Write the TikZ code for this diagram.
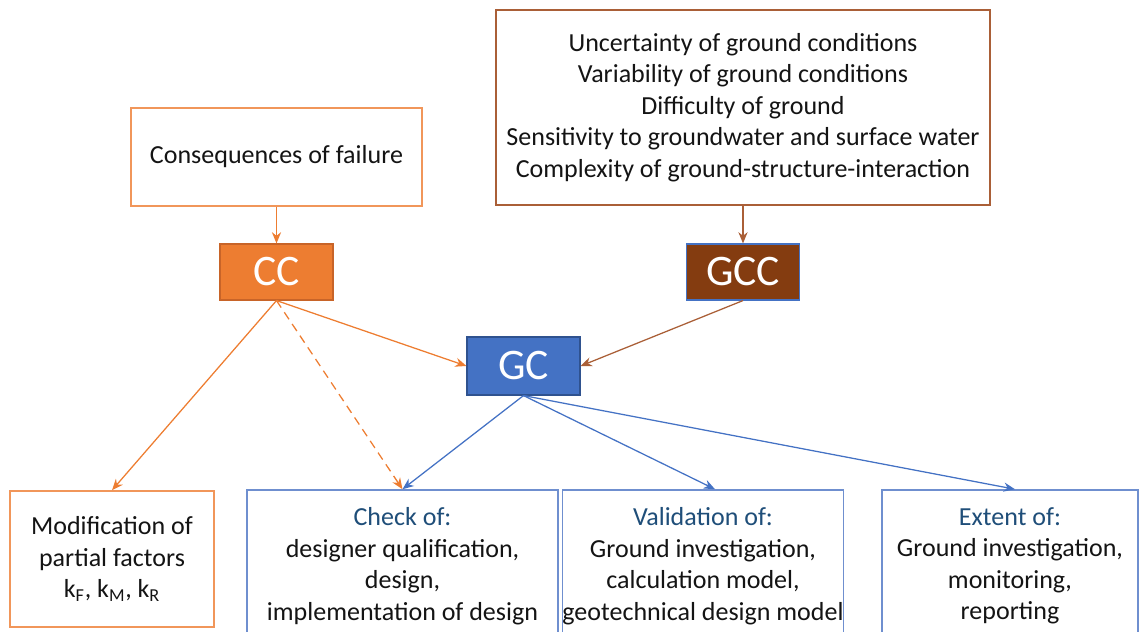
\documentclass[tikz,border=0pt]{standalone}
\usepackage{fontspec}
\setmainfont{Carlito}
\usepackage{tikz}
\usetikzlibrary{arrows.meta}

\definecolor{ccorange}{RGB}{237,125,49}
\definecolor{ccline}{RGB}{241,150,90}
\definecolor{ccedge}{RGB}{200,100,40}
\definecolor{gccbrown}{RGB}{132,60,16}
\definecolor{gccline}{RGB}{170,95,55}
\definecolor{gcblue}{RGB}{68,114,196}
\definecolor{gcedge}{RGB}{47,82,143}
\definecolor{boxblue}{RGB}{111,143,207}
\definecolor{headblue}{RGB}{31,78,121}
\definecolor{txt}{RGB}{20,20,20}

\tikzset{
  textbox/.style={draw, line width=1.1pt, fill=white, text=txt, align=center, inner sep=0pt,
    font=\fontsize{18.5}{22.4}\selectfont},
  catbox/.style={draw, line width=0.8pt, text=white, inner sep=0pt, minimum width=113*0.025cm,
    minimum height=56*0.025cm, font=\fontsize{31}{36}\selectfont},
  arr/.style={line width=0.9pt, -{Stealth[length=8pt,width=6.5pt]}}
}

\begin{document}
\begin{tikzpicture}[x=0.025cm,y=-0.025cm]
\useasboundingbox (0,0) rectangle (1140,632);
\clip (0,0) rectangle (1140,632);

\node[textbox, draw=ccline, minimum width=291*0.025cm, minimum height=98*0.025cm] (cons) at (276.5,157) {Consequences of failure};
\node[textbox, draw=gccline, minimum width=494*0.025cm, minimum height=195*0.025cm] (gccin) at (743,107.5)
  {Uncertainty of ground conditions\\Variability of ground conditions\\Difficulty of ground\\Sensitivity to groundwater and surface water\\Complexity of ground-structure-interaction};

\node[catbox, fill=ccorange, draw=ccedge] (cc) at (276.5,272) {CC};
\node[catbox, fill=gccbrown, draw=gcblue] (gcc) at (743,272) {GCC};
\node[catbox, fill=gcblue, draw=gcedge, minimum height=58*0.025cm] (gc) at (523.5,366) {GC};

\node[textbox, draw=ccline, minimum width=204*0.025cm, minimum height=136*0.025cm] (modif) at (112,559)
  {Modification of\\partial factors\\k\textsubscript{F}, k\textsubscript{M}, k\textsubscript{R}};
\node[textbox, draw=boxblue, minimum width=311*0.025cm, minimum height=152*0.025cm] (check) at (402.5,566)
  {\textcolor{headblue}{Check of:}\\designer qualification,\\design,\\implementation of design};
\node[textbox, draw=boxblue, minimum width=280*0.025cm, minimum height=152*0.025cm] (valid) at (703,566)
  {\textcolor{headblue}{Validation of:}\\Ground investigation,\\calculation model,\\geotechnical design model};
\node[textbox, draw=boxblue, minimum width=256*0.025cm, minimum height=152*0.025cm] (extent) at (1010,566)
  {\textcolor{headblue}{Extent of:}\\Ground investigation,\\monitoring,\\reporting};

\draw[arr, ccorange] (cons) -- (cc);
\draw[arr, gccline] (gccin) -- (gcc);
\draw[arr, ccorange] (cc.south) -- (gc.west);
\draw[arr, gccline] (gcc.south) -- (gc.east);
\draw[arr, ccorange] (cc.south) -- (modif.north);
\draw[arr, ccorange, dashed, dash pattern=on 6pt off 4pt] (cc.south) -- (check.north);
\draw[arr, gcblue] (gc.south) -- (check.north);
\draw[arr, gcblue] (gc.south) -- ([xshift=12*0.025cm]valid.north);
\draw[arr, gcblue] (gc.south) -- ([xshift=5*0.025cm]extent.north);
\end{tikzpicture}
\end{document}
